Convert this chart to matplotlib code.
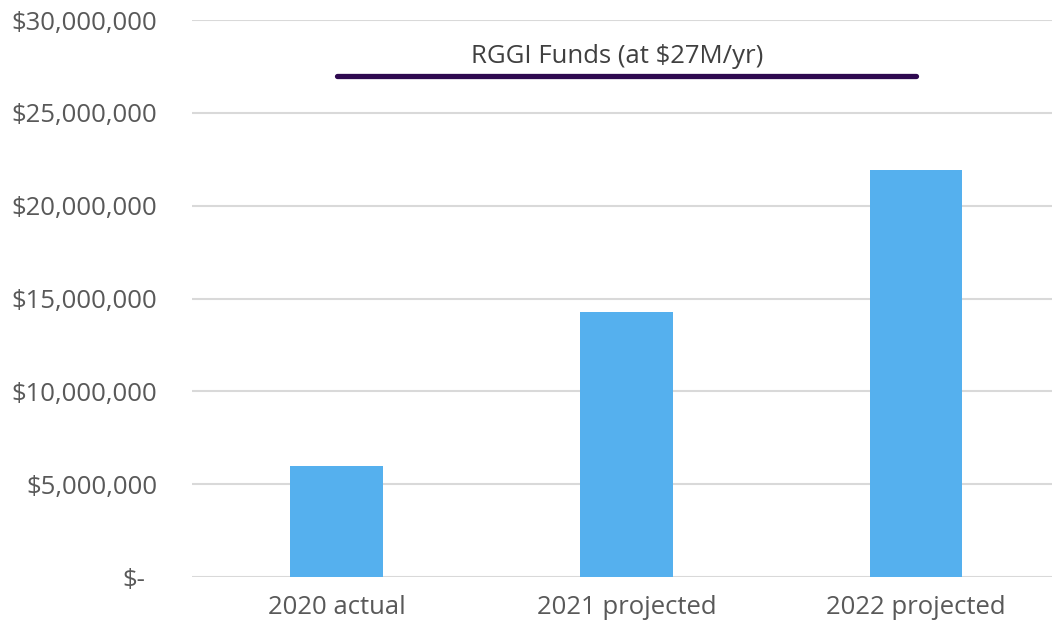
import matplotlib.pyplot as plt
from matplotlib.ticker import FuncFormatter
from matplotlib.transforms import ScaledTranslation

# datos
categorias = ["2020 actual", "2021 projected", "2022 projected"]
valores = [5980000, 14250000, 21900000]
rggi = 27000000
rggi_texto = "RGGI Funds (at $27M/yr)"
yticks = [0, 5000000, 10000000, 15000000, 20000000, 25000000, 30000000]

plt.rcParams['font.family'] = ['Open Sans', 'DejaVu Sans']
gris = '#595959'

fig = plt.figure(figsize=(10.52, 6.35), dpi=100)
ax = fig.add_axes([0.1825, 0.0913, 0.8175, 0.8772])

x = range(len(categorias))
ax.bar(x, valores, width=0.32, color='#55B0EE', zorder=3)

# linea de fondos RGGI entre la primera y la ultima categoria
ax.plot([0, 2], [rggi, rggi], color='#2E0950', linewidth=3.8,
        solid_capstyle='round', zorder=4)
ax.text(0.97, rggi + 1050000, rggi_texto, ha='center', va='center',
        fontsize=18.5, color='#404040')

ax.set_xlim(-0.5, 2.47)
ax.set_ylim(0, 30000000)
ax.set_xticks(list(x))
ax.set_xticklabels(categorias)
ax.set_yticks(yticks)

def dinero(v, pos):
    if v == 0:
        return "$-"
    return "${:,.0f}".format(v)

ax.yaxis.set_major_formatter(FuncFormatter(dinero))

for s in ax.spines.values():
    s.set_visible(False)
ax.grid(axis='y', color='#D9D9D9', linewidth=1.5, zorder=0)
ax.set_axisbelow(True)
ax.tick_params(axis='both', length=0, labelsize=18.5, labelcolor=gris)
ax.tick_params(axis='y', pad=25)
ax.tick_params(axis='x', pad=13)

# el "$-" va un poco mas a la izquierda como en excel
fig.canvas.draw()
etiqueta = ax.get_yticklabels()[0]
etiqueta.set_transform(etiqueta.get_transform() + ScaledTranslation(-12 / 100, 0, fig.dpi_scale_trans))

plt.savefig("out.png", dpi=100)
